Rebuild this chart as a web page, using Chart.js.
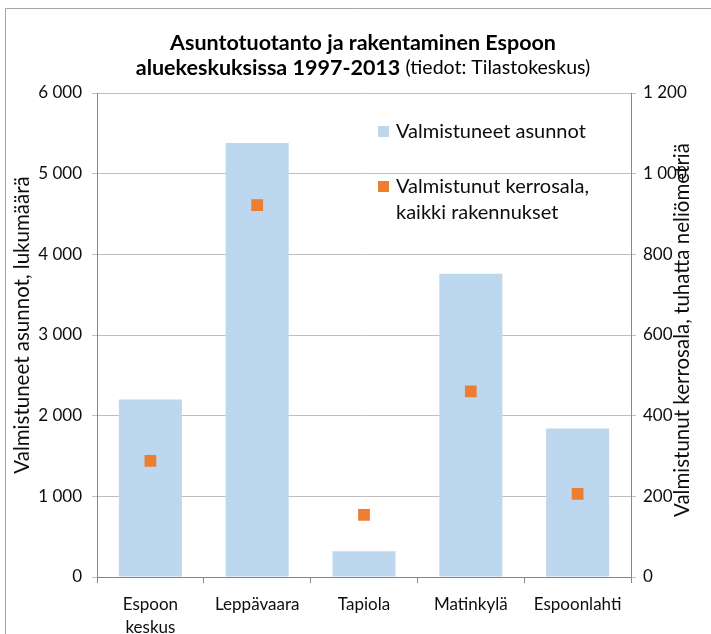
<!DOCTYPE html>
<html>
<head>
<meta charset="utf-8">
<script src="https://cdn.jsdelivr.net/npm/chart.js@4/dist/chart.umd.min.js"></script>
<style>
html, body { margin: 0; padding: 0; background: #fff; }
</style>
</head>
<body>
<canvas id="mycanvas" width="711" height="634"></canvas>
<script>
var alueet = [["Espoon", "keskus"], "Leppävaara", "Tapiola", "Matinkylä", "Espoonlahti"];
var asunnot = [2200, 5380, 320, 3760, 1840];
var kerrosala = [288, 922, 154, 460, 206];

var FONT = "Lato, 'Open Sans', sans-serif";
var TEXT = "#0d0d0d";

function fmt(v) {
  return String(v).replace(/\B(?=(\d{3})+(?!\d))/g, " ");
}

// title, axis titles, legend and frame drawn by hand
var extras = {
  id: "extras",
  afterDraw: function(chart) {
    var ctx = chart.ctx;
    ctx.save();

    // frame
    ctx.strokeStyle = "#A6A6A6";
    ctx.lineWidth = 1;
    ctx.beginPath();
    ctx.moveTo(5.5, 634);
    ctx.lineTo(5.5, 8.5);
    ctx.lineTo(711, 8.5);
    ctx.stroke();

    // title
    ctx.fillStyle = "#000";
    ctx.textBaseline = "middle";
    ctx.textAlign = "center";
    ctx.font = "bold 21.5px " + FONT;
    ctx.fillText("Asuntotuotanto ja rakentaminen Espoon", 363, 43);
    var b = "aluekeskuksissa 1997-2013 ";
    var n = "(tiedot: Tilastokeskus)";
    var wb = ctx.measureText(b).width;
    ctx.font = "19.5px " + FONT;
    var wn = ctx.measureText(n).width;
    var x0 = 363 - (wb + wn) / 2;
    ctx.textAlign = "left";
    ctx.font = "bold 21.5px " + FONT;
    ctx.fillText(b, x0, 68);
    ctx.font = "19.5px " + FONT;
    ctx.fillText(n, x0 + wb, 68);

    // axis titles
    ctx.fillStyle = TEXT;
    ctx.font = "20.5px " + FONT;
    ctx.textAlign = "center";
    ctx.save();
    ctx.translate(22, 325);
    ctx.rotate(-Math.PI / 2);
    ctx.fillText("Valmistuneet asunnot, lukumäärä", 0, 0);
    ctx.restore();
    ctx.save();
    ctx.translate(682, 330);
    ctx.rotate(-Math.PI / 2);
    ctx.fillText("Valmistunut kerrosala, tuhatta neliömetriä", 0, 0);
    ctx.restore();

    // legend
    var bars = chart.data.datasets[1];
    var pts = chart.data.datasets[0];
    ctx.textAlign = "left";
    ctx.font = "20px " + FONT;
    ctx.fillStyle = bars.backgroundColor;
    ctx.fillRect(378, 126, 11, 11);
    ctx.fillStyle = TEXT;
    ctx.fillText(bars.label, 396, 132);
    ctx.fillStyle = pts.backgroundColor;
    ctx.fillRect(378, 181, 11, 11);
    ctx.fillStyle = TEXT;
    ctx.fillText(pts.label[0], 396, 187);
    ctx.fillText(pts.label[1], 396, 213);

    ctx.restore();
  }
};

var ctx = document.getElementById("mycanvas");

var chart = new Chart(ctx, {
  data: {
    labels: alueet,
    datasets: [
      {
        type: "line",
        label: ["Valmistunut kerrosala,", "kaikki rakennukset"],
        data: kerrosala,
        yAxisID: "y1",
        showLine: false,
        pointStyle: "rect",
        pointRadius: 8.3,
        backgroundColor: "#ED7D31",
        borderColor: "#ED7D31",
        borderWidth: 0,
        order: 1
      },
      {
        type: "bar",
        label: "Valmistuneet asunnot",
        data: asunnot,
        yAxisID: "y",
        backgroundColor: "#BDD7EE",
        barPercentage: 0.59,
        categoryPercentage: 1,
        order: 2
      }
    ]
  },
  options: {
    responsive: false,
    animation: false,
    layout: { padding: { top: 93, left: 0, right: 0, bottom: 0 } },
    plugins: {
      legend: { display: false },
      title: { display: false },
      tooltip: { enabled: false }
    },
    scales: {
      x: {
        offset: true,
        grid: { offset: true, drawOnChartArea: false, drawTicks: true, tickLength: 6, color: "#868686" },
        border: { color: "#868686" },
        ticks: { font: { size: 17, family: FONT, lineHeight: 1.35 }, color: TEXT, padding: 10, maxRotation: 0, autoSkip: false },
        afterFit: function(s) { s.height = 57; }
      },
      y: {
        position: "left",
        min: 0,
        max: 6000,
        ticks: { stepSize: 1000, callback: fmt, padding: 10, font: { size: 17, family: FONT }, color: TEXT },
        grid: { color: "#BFBFBF", tickLength: 5 },
        border: { color: "#868686" },
        afterFit: function(s) { s.width = 97; }
      },
      y1: {
        position: "right",
        min: 0,
        max: 1200,
        ticks: { stepSize: 200, callback: fmt, padding: 7, font: { size: 17, family: FONT }, color: TEXT },
        grid: { drawOnChartArea: false, tickLength: 5, color: "#BFBFBF" },
        border: { color: "#868686" },
        afterFit: function(s) { s.width = 80; }
      }
    }
  },
  plugins: [extras]
});
</script>
</body>
</html>
